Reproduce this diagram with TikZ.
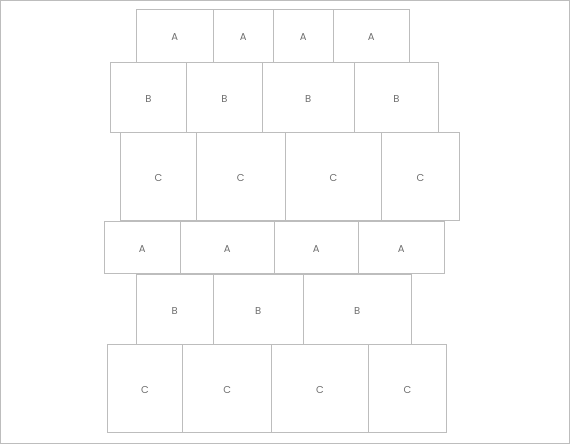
\documentclass[tikz,border=0pt]{standalone}
\usepackage{fontspec}
\setmainfont{Poppins}
\definecolor{edgegray}{HTML}{BDBDBD}
\definecolor{textgray}{HTML}{6E6E6E}
\tikzset{
  brick/.style={draw=edgegray, line width=0.8pt, inner sep=0pt, text=textgray,
    text height=11pt, text depth=0pt, font=\fontsize{10}{11}\selectfont},
}
\begin{document}
\begin{tikzpicture}[x=1pt,y=-1pt]
  \draw[edgegray, line width=1pt] (0.5,0.5) rectangle (569.5,443.5);
  % top wall
  \foreach \l/\r [count=\i] in {136.3/213.3, 213.3/273, 273/333.3, 333.3/409.3}
    \node[brick, minimum width={\r pt-\l pt}, minimum height=53pt] (a1-\i) at ({(\l+\r)/2},35.5) {A};
  \foreach \l/\r [count=\i] in {110.3/186.7, 186.7/262.3, 262.3/354.3, 354.3/438.7}
    \node[brick, minimum width={\r pt-\l pt}, minimum height=70.3pt] (b1-\i) at ({(\l+\r)/2},97.2) {B};
  \foreach \l/\r [count=\i] in {120.7/196.3, 196.3/285.3, 285.3/381.7, 381.7/459.3}
    \node[brick, minimum width={\r pt-\l pt}, minimum height=88pt] (c1-\i) at ({(\l+\r)/2},176.3) {C};
  % bottom wall
  \foreach \l/\r [count=\i] in {104/180.3, 180.3/274.3, 274.3/358.3, 358.3/444.3}
    \node[brick, minimum width={\r pt-\l pt}, minimum height=52.7pt] (a2-\i) at ({(\l+\r)/2},247.4) {A};
  \foreach \l/\r [count=\i] in {136.3/213.3, 213.3/303.3, 303.3/411}
    \node[brick, minimum width={\r pt-\l pt}, minimum height=69.7pt] (b2-\i) at ({(\l+\r)/2},309.2) {B};
  \foreach \l/\r [count=\i] in {107.3/182.7, 182.7/271.7, 271.7/368.3, 368.3/446.7}
    \node[brick, minimum width={\r pt-\l pt}, minimum height=88pt] (c2-\i) at ({(\l+\r)/2},388.3) {C};
\end{tikzpicture}
\end{document}
